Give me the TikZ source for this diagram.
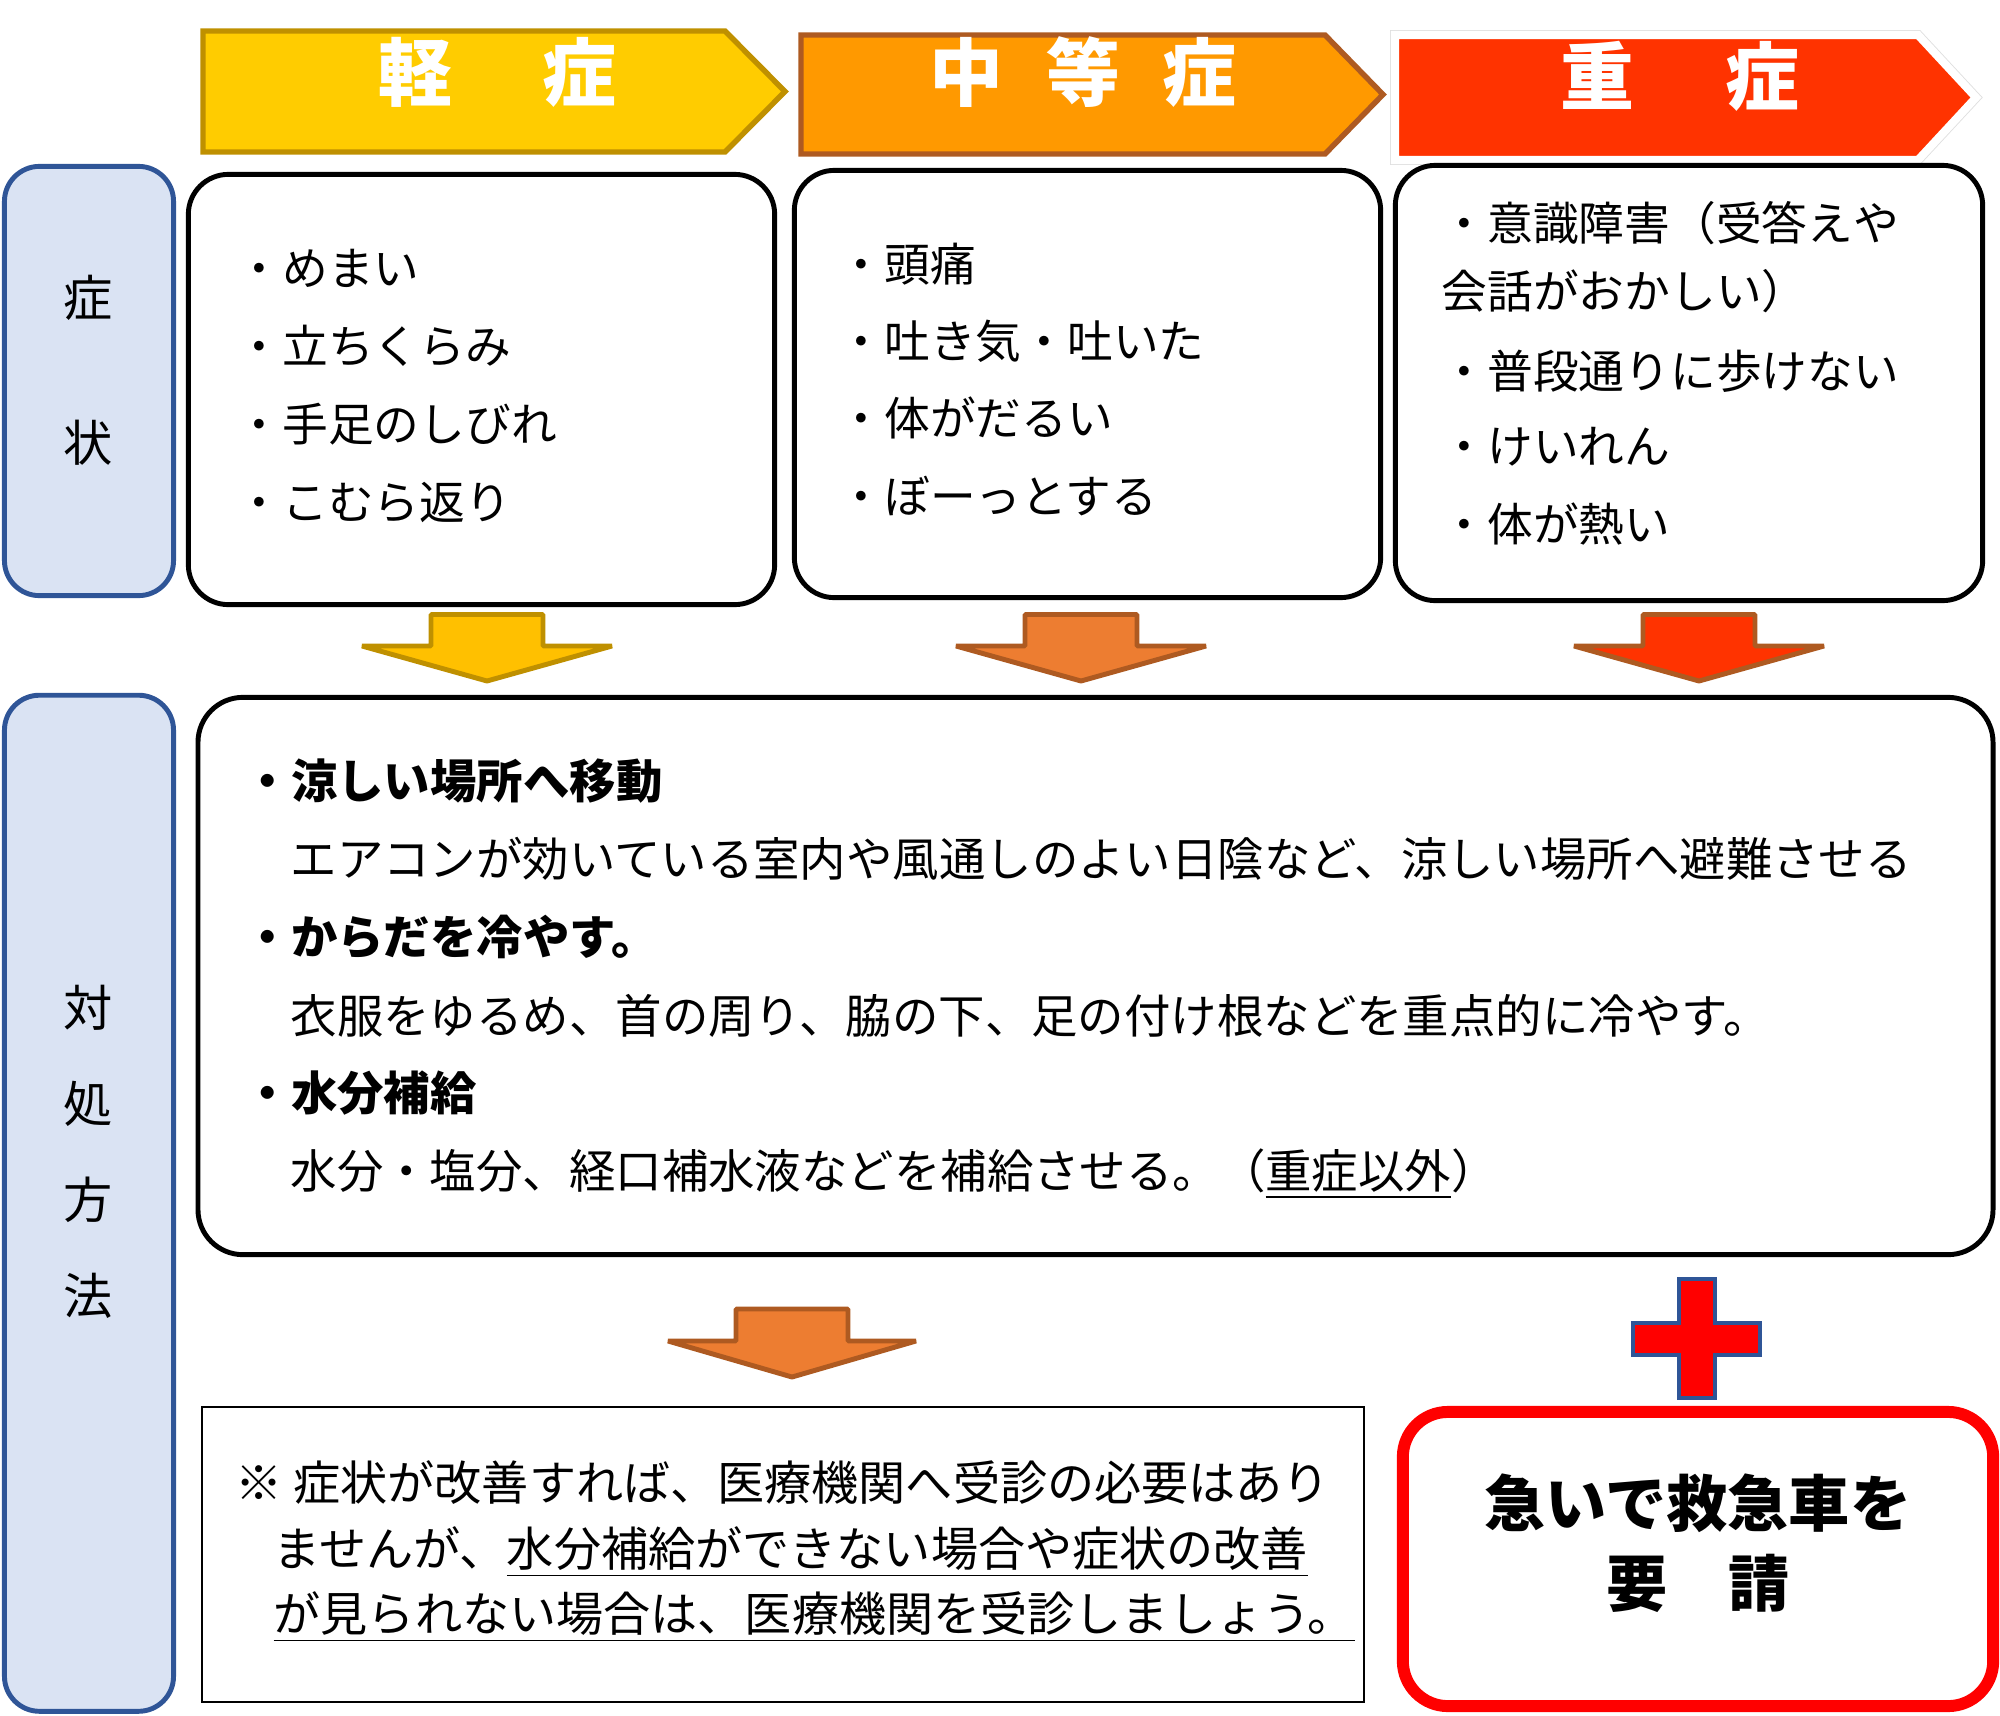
\documentclass[tikz,border=0pt]{standalone}
\usepackage{fontspec}
\setmainfont{Noto Sans CJK JP}
\usepackage{tikz}
\usetikzlibrary{positioning}

\definecolor{mildhead}{HTML}{FFCC00}
\definecolor{mildborder}{HTML}{BF9000}
\definecolor{mildarrow}{HTML}{FFC000}
\definecolor{modhead}{HTML}{FF9900}
\definecolor{modborder}{HTML}{AE5A21}
\definecolor{modarrow}{HTML}{ED7D31}
\definecolor{sevhead}{HTML}{FF3300}
\definecolor{labelfill}{HTML}{DAE3F3}
\definecolor{labelborder}{HTML}{2F5597}
\definecolor{crossred}{HTML}{FF0000}

\tikzset{
  labelbox/.style={draw=labelborder, fill=labelfill, line width=1.4pt, rounded corners=0.35cm, inner sep=0pt},
  symbox/.style={draw=black, line width=1.4pt, rounded corners=0.4cm, inner sep=0pt},
  notebox/.style={draw=black, line width=0.6pt, inner sep=0pt},
  callbox/.style={draw=crossred, line width=3.4pt, rounded corners=0.45cm, inner sep=0pt},
  downarrow/.style={line width=1.4pt, line join=bevel},
  headtext/.style={text=white, inner sep=0pt, font=\fontsize{21pt}{24pt}\selectfont\bfseries},
  labeltext/.style={inner sep=0pt, font=\fontsize{14pt}{16pt}\selectfont},
  symtext/.style={anchor=west, inner sep=0pt, text height=0.88em, text depth=0.12em, font=\fontsize{13pt}{15pt}\selectfont},
  resptext/.style={anchor=west, inner sep=0pt, text height=0.88em, text depth=0.12em, font=\fontsize{13.2pt}{15pt}\selectfont},
  resphead/.style={resptext, font=\fontsize{13.2pt}{15pt}\selectfont\bfseries},
  notetext/.style={anchor=west, inner sep=0pt, text height=0.88em, text depth=0.12em, font=\fontsize{13.4pt}{15pt}\selectfont},
  calltext/.style={inner sep=0pt, text height=0.88em, text depth=0.12em, font=\fontsize{17.4pt}{20pt}\selectfont\bfseries},
}

\begin{document}
\begin{tikzpicture}[x=0.01cm, y=-0.01cm, line join=miter]
  \useasboundingbox (0,0) rectangle (2000,1715);

  % headers
  \filldraw[fill=mildhead, draw=mildborder, line width=1.55pt] (203,31) -- (725,31) -- (785,91.5) -- (725,152) -- (203,152) -- cycle;
  \filldraw[fill=modhead, draw=modborder, line width=1.55pt] (801,35) -- (1325,35) -- (1383,94.5) -- (1325,154) -- (801,154) -- cycle;
  \draw[draw=gray!25, line width=2.8pt] (1395,35) -- (1918,35) -- (1976,97.5) -- (1918,160) -- (1395,160) -- cycle;
  \filldraw[fill=sevhead, draw=white, line width=2.3pt] (1395,35) -- (1918,35) -- (1976,97.5) -- (1918,160) -- (1395,160) -- cycle;
  \node[headtext] (mild_title) at (497,72) {軽\hspace{0.9cm}症};
  \node[headtext] (mod_title) at (1083,72) {中\hspace{0.43cm}等\hspace{0.43cm}症};
  \node[headtext] (sev_title) at (1680,76) {重\hspace{0.91cm}症};

  % side labels
  \node[labelbox, minimum width=1.69cm, minimum height=4.29cm] (symptom_label) at (89,381) {};
  \node[labeltext] (symptom_char_1) at (88,298) {症};
  \node[labeltext] (symptom_char_2) at (88,443) {状};
  \node[labelbox, minimum width=1.69cm, minimum height=10.155cm] (response_label) at (89,1203.25) {};
  \foreach \ch [count=\i] in {対,処,方,法}
    \node[labeltext] (response_char_\i) at (88,{1008+96*(\i-1)}) {\ch};

  % symptoms
  \node[symbox, minimum width=5.86cm, minimum height=4.30cm] (mild_box) at (481.5,389.5) {};
  \node[symbox, minimum width=5.86cm, minimum height=4.27cm] (mod_box) at (1087.5,384) {};
  \node[symbox, minimum width=5.87cm, minimum height=4.35cm] (sev_box) at (1689,383) {};

  \foreach \txt [count=\i] in {・めまい,・立ちくらみ,・手足のしびれ,・こむら返り}
    \node[symtext] (mild_sym_\i) at (236,{272+78*(\i-1)}) {\txt};
  \foreach \txt [count=\i] in {・頭痛,・吐き気・吐いた,・体がだるい,・ぼーっとする}
    \node[symtext] (mod_sym_\i) at (838,{268+77.3*(\i-1)}) {\txt};
  \foreach \txt/\ty [count=\i] in {・意識障害（受答えや/227,会話がおかしい）/295,・普段通りに歩けない/375,・けいれん/450,・体が熱い/528}
    \node[symtext] (sev_sym_\i) at (1441,\ty) {\txt};

  % down arrows
  \foreach \cx/\fillc/\drawc [count=\i] in {487/mildarrow/mildborder,1081/modarrow/modborder,1699/sevhead/modborder}
    \filldraw[downarrow, fill=\fillc, draw=\drawc] (\cx-56,614.5) -- (\cx+56,614.5) -- (\cx+56,646) -- (\cx+125,646) -- (\cx,681) -- (\cx-125,646) -- (\cx-56,646) -- cycle;

  % response
  \node[symbox, minimum width=17.94cm, minimum height=5.57cm, rounded corners=0.45cm] (response_box) at (1095.5,976) {};
  \node[resphead] (resp_head_1) at (244,785) {・涼しい場所へ移動};
  \node[resptext] (resp_text_1) at (290,863) {エアコンが効いている室内や風通しのよい日陰など、涼しい場所へ避難させる};
  \node[resphead] (resp_head_2) at (244,941) {・からだを冷やす。};
  \node[resptext] (resp_text_2) at (290,1020) {衣服をゆるめ、首の周り、脇の下、足の付け根などを重点的に冷やす。};
  \node[resphead] (resp_head_3) at (244,1097) {・水分補給};
  \node[resptext] (resp_text_3) at (290,1175) {水分・塩分、経口補水液などを補給させる。（\underline{重症以外}）};

  % after
  \filldraw[downarrow, fill=modarrow, draw=modborder] (736,1309) -- (848,1309) -- (848,1341) -- (916,1341) -- (792,1377) -- (668,1341) -- (736,1341) -- cycle;
  \node[notebox, minimum width=11.62cm, minimum height=2.95cm] (note_box) at (783,1554.5) {};
  \node[notetext] (note_line_1) at (235,1487) {※ 症状が改善すれば、医療機関へ受診の必要はあり};
  \node[notetext] (note_line_2) at (273,1553) {ませんが、\underline{水分補給ができない場合や症状の改善}};
  \node[notetext] (note_line_3) at (273,1618) {\underline{が見られない場合は、医療機関を受診しましょう。}};

  % ambulance
  \filldraw[fill=crossred, draw=labelborder, line width=1.1pt] (1679,1279) -- (1715,1279) -- (1715,1323) -- (1760,1323) -- (1760,1355) -- (1715,1355) -- (1715,1398) -- (1679,1398) -- (1679,1355) -- (1633,1355) -- (1633,1323) -- (1679,1323) -- cycle;
  \node[callbox, minimum width=5.90cm, minimum height=2.94cm] (call_box) at (1698,1559) {};
  \node[calltext] (call_line_1) at (1698,1513) {急いで救急車を};
  \node[calltext] (call_line_2) at (1698,1593) {要　請};

\end{tikzpicture}
\end{document}
